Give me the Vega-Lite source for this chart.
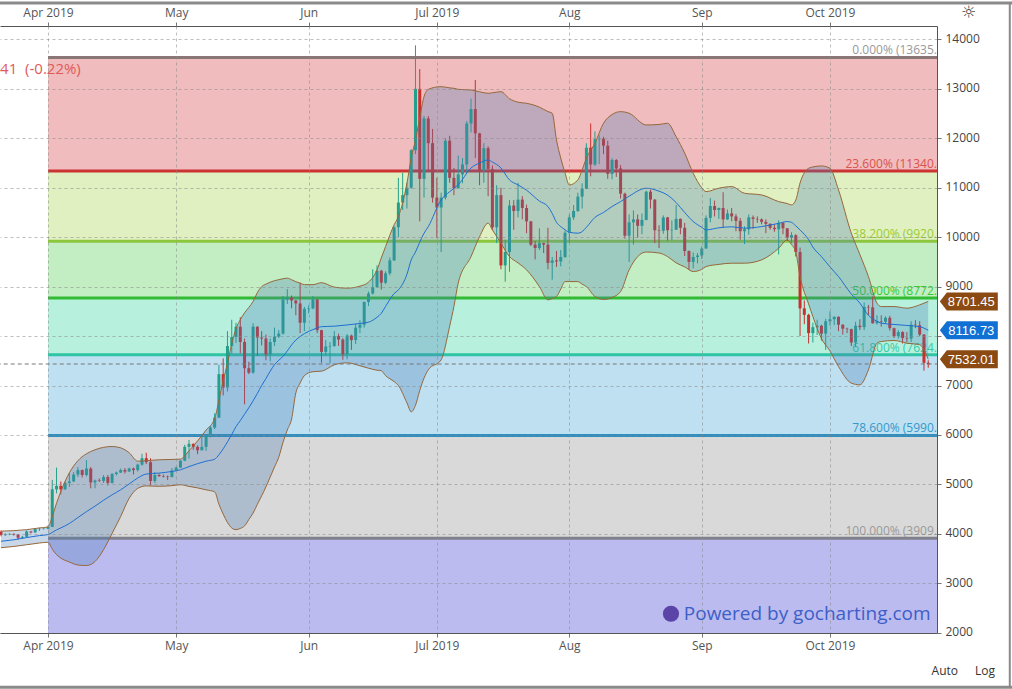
{
  "$schema": "https://vega.github.io/schema/vega-lite/v6.json",
  "width": 937,
  "height": 607,
  "autosize": {"type": "none"},
  "padding": {"left": 0, "top": 26, "right": 75, "bottom": 56},
  "background": "white",
  "config": {"view": {"stroke": null}, "font": "Open Sans", "scale": {"continuousPadding": 0}},
  "datasets": {
    "zones": [
      {"z": "z1", "top": 13635, "bot": 11340},
      {"z": "z2", "top": 11340, "bot": 9920},
      {"z": "z3", "top": 9920, "bot": 8772},
      {"z": "z4", "top": 8772, "bot": 7624},
      {"z": "z5", "top": 7624, "bot": 5990},
      {"z": "z6", "top": 5990, "bot": 3909},
      {"z": "z7", "top": 3909, "bot": 1995}
    ],
    "fib": [
      {"lvl": "0", "v": 13635, "label": "0.000% (13635."},
      {"lvl": "23.6", "v": 11340, "label": "23.600% (11340."},
      {"lvl": "38.2", "v": 9920, "label": "38.200% (9920."},
      {"lvl": "50", "v": 8772, "label": "50.000% (8772."},
      {"lvl": "61.8", "v": 7624, "label": "61.800% (7624."},
      {"lvl": "78.6", "v": 5990, "label": "78.600% (5990."},
      {"lvl": "100", "v": 3909, "label": "100.000% (3909."}
    ],
    "candles": [
      {"t": "2019-03-21", "o": 4045, "h": 4070, "l": 3950, "c": 3975},
      {"t": "2019-03-22", "o": 3975, "h": 4010, "l": 3960, "c": 3990},
      {"t": "2019-03-23", "o": 3990, "h": 4010, "l": 3975, "c": 4000},
      {"t": "2019-03-24", "o": 4000, "h": 4010, "l": 3965, "c": 3985},
      {"t": "2019-03-25", "o": 3985, "h": 3995, "l": 3880, "c": 3920},
      {"t": "2019-03-26", "o": 3920, "h": 3960, "l": 3900, "c": 3940},
      {"t": "2019-03-27", "o": 3940, "h": 4070, "l": 3930, "c": 4050},
      {"t": "2019-03-28", "o": 4050, "h": 4060, "l": 4010, "c": 4030},
      {"t": "2019-03-29", "o": 4030, "h": 4110, "l": 4020, "c": 4095},
      {"t": "2019-03-30", "o": 4095, "h": 4125, "l": 4060, "c": 4100},
      {"t": "2019-03-31", "o": 4100, "h": 4120, "l": 4085, "c": 4105},
      {"t": "2019-04-01", "o": 4105, "h": 4170, "l": 4090, "c": 4140},
      {"t": "2019-04-02", "o": 4140, "h": 5090, "l": 4140, "c": 4900},
      {"t": "2019-04-03", "o": 4900, "h": 5340, "l": 4820, "c": 4970},
      {"t": "2019-04-04", "o": 4970, "h": 5060, "l": 4800, "c": 4900},
      {"t": "2019-04-05", "o": 4900, "h": 5060, "l": 4890, "c": 5030},
      {"t": "2019-04-06", "o": 5030, "h": 5230, "l": 4950, "c": 5060},
      {"t": "2019-04-07", "o": 5060, "h": 5250, "l": 5050, "c": 5200},
      {"t": "2019-04-08", "o": 5200, "h": 5350, "l": 5150, "c": 5290},
      {"t": "2019-04-09", "o": 5290, "h": 5300, "l": 5140, "c": 5190},
      {"t": "2019-04-10", "o": 5190, "h": 5490, "l": 5160, "c": 5320},
      {"t": "2019-04-11", "o": 5320, "h": 5350, "l": 4920, "c": 5040},
      {"t": "2019-04-12", "o": 5040, "h": 5100, "l": 4920, "c": 5080},
      {"t": "2019-04-13", "o": 5080, "h": 5120, "l": 5050, "c": 5070},
      {"t": "2019-04-14", "o": 5070, "h": 5190, "l": 5030, "c": 5150},
      {"t": "2019-04-15", "o": 5150, "h": 5190, "l": 4980, "c": 5030},
      {"t": "2019-04-16", "o": 5030, "h": 5230, "l": 5020, "c": 5210},
      {"t": "2019-04-17", "o": 5210, "h": 5260, "l": 5180, "c": 5240},
      {"t": "2019-04-18", "o": 5240, "h": 5320, "l": 5230, "c": 5290},
      {"t": "2019-04-19", "o": 5290, "h": 5330, "l": 5220, "c": 5260},
      {"t": "2019-04-20", "o": 5260, "h": 5340, "l": 5250, "c": 5320},
      {"t": "2019-04-21", "o": 5320, "h": 5340, "l": 5200, "c": 5290},
      {"t": "2019-04-22", "o": 5290, "h": 5420, "l": 5260, "c": 5400},
      {"t": "2019-04-23", "o": 5400, "h": 5620, "l": 5380, "c": 5530},
      {"t": "2019-04-24", "o": 5530, "h": 5640, "l": 5410, "c": 5450},
      {"t": "2019-04-25", "o": 5450, "h": 5530, "l": 4980, "c": 5070},
      {"t": "2019-04-26", "o": 5070, "h": 5250, "l": 5030, "c": 5190},
      {"t": "2019-04-27", "o": 5190, "h": 5220, "l": 5150, "c": 5170},
      {"t": "2019-04-28", "o": 5170, "h": 5200, "l": 5140, "c": 5160},
      {"t": "2019-04-29", "o": 5160, "h": 5180, "l": 5090, "c": 5150},
      {"t": "2019-04-30", "o": 5150, "h": 5330, "l": 5140, "c": 5280},
      {"t": "2019-05-01", "o": 5280, "h": 5360, "l": 5270, "c": 5340},
      {"t": "2019-05-02", "o": 5340, "h": 5490, "l": 5330, "c": 5480},
      {"t": "2019-05-03", "o": 5480, "h": 5800, "l": 5470, "c": 5760},
      {"t": "2019-05-04", "o": 5760, "h": 5900, "l": 5520, "c": 5820},
      {"t": "2019-05-05", "o": 5820, "h": 5830, "l": 5700, "c": 5760},
      {"t": "2019-05-06", "o": 5760, "h": 5790, "l": 5610, "c": 5690},
      {"t": "2019-05-07", "o": 5690, "h": 5970, "l": 5690, "c": 5760},
      {"t": "2019-05-08", "o": 5760, "h": 6000, "l": 5680, "c": 5960},
      {"t": "2019-05-09", "o": 5960, "h": 6180, "l": 5950, "c": 6150},
      {"t": "2019-05-10", "o": 6150, "h": 6440, "l": 6120, "c": 6350},
      {"t": "2019-05-11", "o": 6350, "h": 7420, "l": 6350, "c": 7230},
      {"t": "2019-05-12", "o": 7230, "h": 7550, "l": 6800, "c": 6960},
      {"t": "2019-05-13", "o": 6960, "h": 8100, "l": 6880, "c": 7800},
      {"t": "2019-05-14", "o": 7800, "h": 8330, "l": 7650, "c": 7980},
      {"t": "2019-05-15", "o": 7980, "h": 8270, "l": 7860, "c": 8190},
      {"t": "2019-05-16", "o": 8190, "h": 8380, "l": 7650, "c": 7880},
      {"t": "2019-05-17", "o": 7880, "h": 7950, "l": 6620, "c": 7350},
      {"t": "2019-05-18", "o": 7350, "h": 7480, "l": 7230, "c": 7260},
      {"t": "2019-05-19", "o": 7260, "h": 8260, "l": 7240, "c": 8190},
      {"t": "2019-05-20", "o": 8190, "h": 8200, "l": 7600, "c": 7970},
      {"t": "2019-05-21", "o": 7970, "h": 8100, "l": 7810, "c": 7950},
      {"t": "2019-05-22", "o": 7950, "h": 8030, "l": 7510, "c": 7630},
      {"t": "2019-05-23", "o": 7630, "h": 7950, "l": 7490, "c": 7880},
      {"t": "2019-05-24", "o": 7880, "h": 8170, "l": 7800, "c": 7990},
      {"t": "2019-05-25", "o": 7990, "h": 8120, "l": 7960, "c": 8050},
      {"t": "2019-05-26", "o": 8050, "h": 8810, "l": 8030, "c": 8740},
      {"t": "2019-05-27", "o": 8740, "h": 8950, "l": 8650, "c": 8780},
      {"t": "2019-05-28", "o": 8780, "h": 8820, "l": 8560, "c": 8720},
      {"t": "2019-05-29", "o": 8720, "h": 8730, "l": 8420, "c": 8660},
      {"t": "2019-05-30", "o": 8660, "h": 9080, "l": 8060, "c": 8270},
      {"t": "2019-05-31", "o": 8270, "h": 8590, "l": 8100, "c": 8550},
      {"t": "2019-06-01", "o": 8550, "h": 8620, "l": 8460, "c": 8560},
      {"t": "2019-06-02", "o": 8560, "h": 8810, "l": 8540, "c": 8740},
      {"t": "2019-06-03", "o": 8740, "h": 8750, "l": 8060, "c": 8120},
      {"t": "2019-06-04", "o": 8120, "h": 8125, "l": 7460, "c": 7680},
      {"t": "2019-06-05", "o": 7680, "h": 7920, "l": 7600, "c": 7790},
      {"t": "2019-06-06", "o": 7790, "h": 7880, "l": 7450, "c": 7800},
      {"t": "2019-06-07", "o": 7800, "h": 8100, "l": 7780, "c": 8000},
      {"t": "2019-06-08", "o": 8000, "h": 8050, "l": 7800, "c": 7930},
      {"t": "2019-06-09", "o": 7930, "h": 7960, "l": 7520, "c": 7630},
      {"t": "2019-06-10", "o": 7630, "h": 8040, "l": 7530, "c": 8010},
      {"t": "2019-06-11", "o": 8010, "h": 8030, "l": 7720, "c": 7920},
      {"t": "2019-06-12", "o": 7920, "h": 8250, "l": 7840, "c": 8170},
      {"t": "2019-06-13", "o": 8170, "h": 8320, "l": 8060, "c": 8230},
      {"t": "2019-06-14", "o": 8230, "h": 8700, "l": 8170, "c": 8690},
      {"t": "2019-06-15", "o": 8690, "h": 8900, "l": 8610, "c": 8860},
      {"t": "2019-06-16", "o": 8860, "h": 9350, "l": 8840, "c": 8990},
      {"t": "2019-06-17", "o": 8990, "h": 9430, "l": 8980, "c": 9320},
      {"t": "2019-06-18", "o": 9320, "h": 9340, "l": 8940, "c": 9080},
      {"t": "2019-06-19", "o": 9080, "h": 9310, "l": 9050, "c": 9270},
      {"t": "2019-06-20", "o": 9270, "h": 9590, "l": 9230, "c": 9530},
      {"t": "2019-06-21", "o": 9530, "h": 10220, "l": 9520, "c": 10200},
      {"t": "2019-06-22", "o": 10200, "h": 11200, "l": 10000, "c": 10700},
      {"t": "2019-06-23", "o": 10700, "h": 11300, "l": 10550, "c": 10850},
      {"t": "2019-06-24", "o": 10850, "h": 11100, "l": 10580, "c": 11000},
      {"t": "2019-06-25", "o": 11000, "h": 11780, "l": 10980, "c": 11760},
      {"t": "2019-06-26", "o": 11760, "h": 13880, "l": 11680, "c": 13000},
      {"t": "2019-06-27", "o": 13000, "h": 13400, "l": 10320, "c": 11180},
      {"t": "2019-06-28", "o": 11180, "h": 12450, "l": 10800, "c": 12400},
      {"t": "2019-06-29", "o": 12400, "h": 12450, "l": 11350, "c": 11900},
      {"t": "2019-06-30", "o": 11900, "h": 12190, "l": 10700, "c": 10800},
      {"t": "2019-07-01", "o": 10800, "h": 11200, "l": 9980, "c": 10600},
      {"t": "2019-07-02", "o": 10600, "h": 10900, "l": 9700, "c": 10800},
      {"t": "2019-07-03", "o": 10800, "h": 12000, "l": 10760, "c": 11950},
      {"t": "2019-07-04", "o": 11950, "h": 12050, "l": 11100, "c": 11200},
      {"t": "2019-07-05", "o": 11200, "h": 11400, "l": 10850, "c": 10990},
      {"t": "2019-07-06", "o": 10990, "h": 11650, "l": 10980, "c": 11270},
      {"t": "2019-07-07", "o": 11270, "h": 11600, "l": 11090, "c": 11470},
      {"t": "2019-07-08", "o": 11470, "h": 12350, "l": 11300, "c": 12300},
      {"t": "2019-07-09", "o": 12300, "h": 12800, "l": 12120, "c": 12590},
      {"t": "2019-07-10", "o": 12590, "h": 13180, "l": 11600, "c": 12100},
      {"t": "2019-07-11", "o": 12100, "h": 12110, "l": 11050, "c": 11350},
      {"t": "2019-07-12", "o": 11350, "h": 11900, "l": 11100, "c": 11800},
      {"t": "2019-07-13", "o": 11800, "h": 11840, "l": 10830, "c": 11380},
      {"t": "2019-07-14", "o": 11380, "h": 11450, "l": 10150, "c": 10200},
      {"t": "2019-07-15", "o": 10200, "h": 11050, "l": 9880, "c": 10850},
      {"t": "2019-07-16", "o": 10850, "h": 11000, "l": 9350, "c": 9430},
      {"t": "2019-07-17", "o": 9430, "h": 9950, "l": 9100, "c": 9700},
      {"t": "2019-07-18", "o": 9700, "h": 10750, "l": 9300, "c": 10640},
      {"t": "2019-07-19", "o": 10640, "h": 10750, "l": 10150, "c": 10530},
      {"t": "2019-07-20", "o": 10530, "h": 11100, "l": 10400, "c": 10760},
      {"t": "2019-07-21", "o": 10760, "h": 10830, "l": 10360, "c": 10590},
      {"t": "2019-07-22", "o": 10590, "h": 10660, "l": 10080, "c": 10320},
      {"t": "2019-07-23", "o": 10320, "h": 10330, "l": 9820, "c": 9850},
      {"t": "2019-07-24", "o": 9850, "h": 9920, "l": 9550, "c": 9780},
      {"t": "2019-07-25", "o": 9780, "h": 10180, "l": 9740, "c": 9880},
      {"t": "2019-07-26", "o": 9880, "h": 9890, "l": 9680, "c": 9850},
      {"t": "2019-07-27", "o": 9850, "h": 10190, "l": 9350, "c": 9480},
      {"t": "2019-07-28", "o": 9480, "h": 9600, "l": 9140, "c": 9530},
      {"t": "2019-07-29", "o": 9530, "h": 9720, "l": 9400, "c": 9510},
      {"t": "2019-07-30", "o": 9510, "h": 9740, "l": 9410, "c": 9600},
      {"t": "2019-07-31", "o": 9600, "h": 10130, "l": 9580, "c": 10090},
      {"t": "2019-08-01", "o": 10090, "h": 10460, "l": 9890, "c": 10400},
      {"t": "2019-08-02", "o": 10400, "h": 10650, "l": 10350, "c": 10530},
      {"t": "2019-08-03", "o": 10530, "h": 10900, "l": 10510, "c": 10820},
      {"t": "2019-08-04", "o": 10820, "h": 11090, "l": 10580, "c": 10980},
      {"t": "2019-08-05", "o": 10980, "h": 11900, "l": 10970, "c": 11810},
      {"t": "2019-08-06", "o": 11810, "h": 12300, "l": 11230, "c": 11470},
      {"t": "2019-08-07", "o": 11470, "h": 12140, "l": 11440, "c": 11980},
      {"t": "2019-08-08", "o": 11980, "h": 12060, "l": 11480, "c": 11990},
      {"t": "2019-08-09", "o": 11990, "h": 12030, "l": 11680, "c": 11850},
      {"t": "2019-08-10", "o": 11850, "h": 11950, "l": 11180, "c": 11280},
      {"t": "2019-08-11", "o": 11280, "h": 11600, "l": 11170, "c": 11560},
      {"t": "2019-08-12", "o": 11560, "h": 11580, "l": 11220, "c": 11390},
      {"t": "2019-08-13", "o": 11390, "h": 11460, "l": 10780, "c": 10880},
      {"t": "2019-08-14", "o": 10880, "h": 10900, "l": 9970, "c": 10030},
      {"t": "2019-08-15", "o": 10030, "h": 10460, "l": 9500, "c": 10300},
      {"t": "2019-08-16", "o": 10300, "h": 10540, "l": 9850, "c": 10360},
      {"t": "2019-08-17", "o": 10360, "h": 10460, "l": 9990, "c": 10230},
      {"t": "2019-08-18", "o": 10230, "h": 10480, "l": 10060, "c": 10350},
      {"t": "2019-08-19", "o": 10350, "h": 10940, "l": 10340, "c": 10920},
      {"t": "2019-08-20", "o": 10920, "h": 10960, "l": 10580, "c": 10760},
      {"t": "2019-08-21", "o": 10760, "h": 10770, "l": 9880, "c": 10140},
      {"t": "2019-08-22", "o": 10140, "h": 10240, "l": 9780, "c": 10130},
      {"t": "2019-08-23", "o": 10130, "h": 10440, "l": 10070, "c": 10400},
      {"t": "2019-08-24", "o": 10400, "h": 10410, "l": 9930, "c": 10140},
      {"t": "2019-08-25", "o": 10140, "h": 10340, "l": 9940, "c": 10150},
      {"t": "2019-08-26", "o": 10150, "h": 10650, "l": 10150, "c": 10370},
      {"t": "2019-08-27", "o": 10370, "h": 10380, "l": 10060, "c": 10190},
      {"t": "2019-08-28", "o": 10190, "h": 10290, "l": 9620, "c": 9720},
      {"t": "2019-08-29", "o": 9720, "h": 9730, "l": 9340, "c": 9500},
      {"t": "2019-08-30", "o": 9500, "h": 9690, "l": 9370, "c": 9600},
      {"t": "2019-08-31", "o": 9600, "h": 9680, "l": 9470, "c": 9630},
      {"t": "2019-09-01", "o": 9630, "h": 9810, "l": 9560, "c": 9770},
      {"t": "2019-09-02", "o": 9770, "h": 10440, "l": 9770, "c": 10390},
      {"t": "2019-09-03", "o": 10390, "h": 10790, "l": 10300, "c": 10630},
      {"t": "2019-09-04", "o": 10630, "h": 10740, "l": 10420, "c": 10550},
      {"t": "2019-09-05", "o": 10550, "h": 10600, "l": 10370, "c": 10590},
      {"t": "2019-09-06", "o": 10590, "h": 10910, "l": 10190, "c": 10360},
      {"t": "2019-09-07", "o": 10360, "h": 10560, "l": 10350, "c": 10480},
      {"t": "2019-09-08", "o": 10480, "h": 10590, "l": 10320, "c": 10420},
      {"t": "2019-09-09", "o": 10420, "h": 10470, "l": 10120, "c": 10330},
      {"t": "2019-09-10", "o": 10330, "h": 10390, "l": 9950, "c": 10120},
      {"t": "2019-09-11", "o": 10120, "h": 10220, "l": 9860, "c": 10160},
      {"t": "2019-09-12", "o": 10160, "h": 10460, "l": 10050, "c": 10400},
      {"t": "2019-09-13", "o": 10400, "h": 10440, "l": 10170, "c": 10370},
      {"t": "2019-09-14", "o": 10370, "h": 10420, "l": 10290, "c": 10360},
      {"t": "2019-09-15", "o": 10360, "h": 10380, "l": 10260, "c": 10310},
      {"t": "2019-09-16", "o": 10310, "h": 10360, "l": 10080, "c": 10270},
      {"t": "2019-09-17", "o": 10270, "h": 10280, "l": 10150, "c": 10190},
      {"t": "2019-09-18", "o": 10190, "h": 10260, "l": 10110, "c": 10160},
      {"t": "2019-09-19", "o": 10160, "h": 10340, "l": 9650, "c": 10290},
      {"t": "2019-09-20", "o": 10290, "h": 10300, "l": 10060, "c": 10180},
      {"t": "2019-09-21", "o": 10180, "h": 10185, "l": 9920, "c": 9990},
      {"t": "2019-09-22", "o": 9990, "h": 10100, "l": 9880, "c": 10040},
      {"t": "2019-09-23", "o": 10040, "h": 10060, "l": 9610, "c": 9700},
      {"t": "2019-09-24", "o": 9700, "h": 9790, "l": 8000, "c": 8560},
      {"t": "2019-09-25", "o": 8560, "h": 8720, "l": 8240, "c": 8430},
      {"t": "2019-09-26", "o": 8430, "h": 8450, "l": 7850, "c": 8060},
      {"t": "2019-09-27", "o": 8060, "h": 8270, "l": 7870, "c": 8180},
      {"t": "2019-09-28", "o": 8180, "h": 8330, "l": 8020, "c": 8210},
      {"t": "2019-09-29", "o": 8210, "h": 8230, "l": 7910, "c": 8050},
      {"t": "2019-09-30", "o": 8050, "h": 8350, "l": 7720, "c": 8300},
      {"t": "2019-10-01", "o": 8300, "h": 8500, "l": 8210, "c": 8340},
      {"t": "2019-10-02", "o": 8340, "h": 8395, "l": 8220, "c": 8390},
      {"t": "2019-10-03", "o": 8390, "h": 8400, "l": 8100, "c": 8230},
      {"t": "2019-10-04", "o": 8230, "h": 8240, "l": 8030, "c": 8150},
      {"t": "2019-10-05", "o": 8150, "h": 8170, "l": 8060, "c": 8140},
      {"t": "2019-10-06", "o": 8140, "h": 8150, "l": 7800, "c": 7870},
      {"t": "2019-10-07", "o": 7870, "h": 8290, "l": 7780, "c": 8210},
      {"t": "2019-10-08", "o": 8210, "h": 8340, "l": 8120, "c": 8180},
      {"t": "2019-10-09", "o": 8180, "h": 8680, "l": 8120, "c": 8590},
      {"t": "2019-10-10", "o": 8590, "h": 8630, "l": 8420, "c": 8580},
      {"t": "2019-10-11", "o": 8580, "h": 8800, "l": 8250, "c": 8260},
      {"t": "2019-10-12", "o": 8260, "h": 8420, "l": 8230, "c": 8300},
      {"t": "2019-10-13", "o": 8300, "h": 8420, "l": 8190, "c": 8290},
      {"t": "2019-10-14", "o": 8290, "h": 8400, "l": 8250, "c": 8370},
      {"t": "2019-10-15", "o": 8370, "h": 8410, "l": 8110, "c": 8160},
      {"t": "2019-10-16", "o": 8160, "h": 8170, "l": 7960, "c": 8000},
      {"t": "2019-10-17", "o": 8000, "h": 8120, "l": 7950, "c": 8080},
      {"t": "2019-10-18", "o": 8080, "h": 8100, "l": 7850, "c": 7960},
      {"t": "2019-10-19", "o": 7960, "h": 8080, "l": 7880, "c": 7950},
      {"t": "2019-10-20", "o": 7950, "h": 8300, "l": 7880, "c": 8230},
      {"t": "2019-10-21", "o": 8230, "h": 8320, "l": 8160, "c": 8220},
      {"t": "2019-10-22", "o": 8220, "h": 8300, "l": 8000, "c": 8030},
      {"t": "2019-10-23", "o": 8030, "h": 8040, "l": 7300, "c": 7460},
      {"t": "2019-10-24", "o": 7460, "h": 7510, "l": 7360, "c": 7430}
    ],
    "bands": [
      {"t": "2019-03-21", "u": 4055, "m": 3850, "lo": 3720},
      {"t": "2019-03-24", "u": 4065, "m": 3880, "lo": 3745},
      {"t": "2019-03-27", "u": 4085, "m": 3925, "lo": 3780},
      {"t": "2019-03-30", "u": 4120, "m": 3965, "lo": 3815},
      {"t": "2019-04-01", "u": 4140, "m": 3985, "lo": 3830},
      {"t": "2019-04-02", "u": 4350, "m": 4030, "lo": 3690},
      {"t": "2019-04-03", "u": 4620, "m": 4080, "lo": 3580},
      {"t": "2019-04-04", "u": 4857, "m": 4120, "lo": 3510},
      {"t": "2019-04-06", "u": 5235, "m": 4210, "lo": 3430},
      {"t": "2019-04-08", "u": 5480, "m": 4330, "lo": 3370},
      {"t": "2019-04-10", "u": 5620, "m": 4450, "lo": 3360},
      {"t": "2019-04-12", "u": 5700, "m": 4560, "lo": 3440},
      {"t": "2019-04-14", "u": 5750, "m": 4680, "lo": 3680},
      {"t": "2019-04-16", "u": 5767, "m": 4790, "lo": 4010},
      {"t": "2019-04-18", "u": 5740, "m": 4890, "lo": 4350},
      {"t": "2019-04-20", "u": 5640, "m": 5010, "lo": 4720},
      {"t": "2019-04-22", "u": 5470, "m": 5130, "lo": 4920},
      {"t": "2019-04-24", "u": 5480, "m": 5210, "lo": 4970},
      {"t": "2019-04-27", "u": 5498, "m": 5229, "lo": 4962},
      {"t": "2019-04-30", "u": 5505, "m": 5262, "lo": 4975},
      {"t": "2019-05-02", "u": 5512, "m": 5296, "lo": 4993},
      {"t": "2019-05-04", "u": 5680, "m": 5360, "lo": 4960},
      {"t": "2019-05-06", "u": 5880, "m": 5420, "lo": 4930},
      {"t": "2019-05-08", "u": 6100, "m": 5470, "lo": 4890},
      {"t": "2019-05-10", "u": 6330, "m": 5510, "lo": 4850},
      {"t": "2019-05-11", "u": 6700, "m": 5600, "lo": 4600},
      {"t": "2019-05-12", "u": 7100, "m": 5720, "lo": 4400},
      {"t": "2019-05-13", "u": 7450, "m": 5860, "lo": 4230},
      {"t": "2019-05-14", "u": 7850, "m": 6010, "lo": 4120},
      {"t": "2019-05-15", "u": 8150, "m": 6170, "lo": 4085},
      {"t": "2019-05-16", "u": 8330, "m": 6290, "lo": 4110},
      {"t": "2019-05-17", "u": 8470, "m": 6420, "lo": 4160},
      {"t": "2019-05-18", "u": 8580, "m": 6550, "lo": 4290},
      {"t": "2019-05-19", "u": 8700, "m": 6690, "lo": 4421},
      {"t": "2019-05-20", "u": 8880, "m": 6840, "lo": 4600},
      {"t": "2019-05-21", "u": 9000, "m": 7000, "lo": 4770},
      {"t": "2019-05-22", "u": 9050, "m": 7140, "lo": 4950},
      {"t": "2019-05-23", "u": 9090, "m": 7290, "lo": 5150},
      {"t": "2019-05-24", "u": 9120, "m": 7420, "lo": 5350},
      {"t": "2019-05-25", "u": 9140, "m": 7510, "lo": 5550},
      {"t": "2019-05-26", "u": 9160, "m": 7590, "lo": 5850},
      {"t": "2019-05-27", "u": 9171, "m": 7700, "lo": 6100},
      {"t": "2019-05-28", "u": 9140, "m": 7820, "lo": 6320},
      {"t": "2019-05-29", "u": 9100, "m": 7920, "lo": 6850},
      {"t": "2019-05-30", "u": 9070, "m": 7990, "lo": 7050},
      {"t": "2019-05-31", "u": 9040, "m": 8050, "lo": 7200},
      {"t": "2019-06-02", "u": 9040, "m": 8130, "lo": 7280},
      {"t": "2019-06-04", "u": 9080, "m": 8190, "lo": 7290},
      {"t": "2019-06-07", "u": 8990, "m": 8200, "lo": 7418},
      {"t": "2019-06-10", "u": 8969, "m": 8225, "lo": 7459},
      {"t": "2019-06-13", "u": 9010, "m": 8255, "lo": 7400},
      {"t": "2019-06-15", "u": 9090, "m": 8280, "lo": 7350},
      {"t": "2019-06-17", "u": 9339, "m": 8380, "lo": 7310},
      {"t": "2019-06-18", "u": 9580, "m": 8460, "lo": 7300},
      {"t": "2019-06-19", "u": 9810, "m": 8600, "lo": 7200},
      {"t": "2019-06-21", "u": 10250, "m": 8860, "lo": 7080},
      {"t": "2019-06-22", "u": 10416, "m": 8934, "lo": 7000},
      {"t": "2019-06-24", "u": 11091, "m": 9250, "lo": 6650},
      {"t": "2019-06-25", "u": 11600, "m": 9541, "lo": 6468},
      {"t": "2019-06-26", "u": 11967, "m": 9700, "lo": 6600},
      {"t": "2019-06-27", "u": 12420, "m": 9900, "lo": 6900},
      {"t": "2019-06-28", "u": 12842, "m": 10080, "lo": 7150},
      {"t": "2019-06-29", "u": 12991, "m": 10214, "lo": 7317},
      {"t": "2019-07-02", "u": 13044, "m": 10754, "lo": 7519},
      {"t": "2019-07-04", "u": 13020, "m": 10920, "lo": 8200},
      {"t": "2019-07-05", "u": 13011, "m": 10990, "lo": 8600},
      {"t": "2019-07-06", "u": 12990, "m": 11060, "lo": 9070},
      {"t": "2019-07-09", "u": 12977, "m": 11400, "lo": 9608},
      {"t": "2019-07-11", "u": 12940, "m": 11500, "lo": 10012},
      {"t": "2019-07-13", "u": 12910, "m": 11562, "lo": 10283},
      {"t": "2019-07-14", "u": 12920, "m": 11520, "lo": 10147},
      {"t": "2019-07-16", "u": 12943, "m": 11400, "lo": 9878},
      {"t": "2019-07-18", "u": 12800, "m": 11158, "lo": 9608},
      {"t": "2019-07-20", "u": 12730, "m": 11057, "lo": 9480},
      {"t": "2019-07-22", "u": 12708, "m": 10950, "lo": 9339},
      {"t": "2019-07-25", "u": 12630, "m": 10730, "lo": 9001},
      {"t": "2019-07-27", "u": 12540, "m": 10619, "lo": 8732},
      {"t": "2019-07-28", "u": 12506, "m": 10480, "lo": 8760},
      {"t": "2019-07-29", "u": 11967, "m": 10300, "lo": 8799},
      {"t": "2019-07-30", "u": 11600, "m": 10214, "lo": 8950},
      {"t": "2019-07-31", "u": 11300, "m": 10150, "lo": 9102},
      {"t": "2019-08-01", "u": 11057, "m": 10100, "lo": 9102},
      {"t": "2019-08-03", "u": 11158, "m": 10081, "lo": 9102},
      {"t": "2019-08-04", "u": 11360, "m": 10113, "lo": 9050},
      {"t": "2019-08-05", "u": 11600, "m": 10200, "lo": 9001},
      {"t": "2019-08-07", "u": 11900, "m": 10400, "lo": 8799},
      {"t": "2019-08-09", "u": 12304, "m": 10500, "lo": 8740},
      {"t": "2019-08-11", "u": 12480, "m": 10620, "lo": 8780},
      {"t": "2019-08-13", "u": 12539, "m": 10720, "lo": 8900},
      {"t": "2019-08-15", "u": 12506, "m": 10830, "lo": 9339},
      {"t": "2019-08-19", "u": 12270, "m": 10990, "lo": 9700},
      {"t": "2019-08-22", "u": 12280, "m": 10930, "lo": 9680},
      {"t": "2019-08-24", "u": 12304, "m": 10850, "lo": 9608},
      {"t": "2019-08-26", "u": 12033, "m": 10700, "lo": 9480},
      {"t": "2019-08-28", "u": 11700, "m": 10500, "lo": 9400},
      {"t": "2019-08-30", "u": 11293, "m": 10316, "lo": 9305},
      {"t": "2019-09-01", "u": 11000, "m": 10200, "lo": 9350},
      {"t": "2019-09-02", "u": 10922, "m": 10147, "lo": 9406},
      {"t": "2019-09-05", "u": 10990, "m": 10190, "lo": 9450},
      {"t": "2019-09-08", "u": 11023, "m": 10210, "lo": 9474},
      {"t": "2019-09-11", "u": 10889, "m": 10182, "lo": 9474},
      {"t": "2019-09-15", "u": 10855, "m": 10214, "lo": 9541},
      {"t": "2019-09-19", "u": 10720, "m": 10280, "lo": 9777},
      {"t": "2019-09-21", "u": 10680, "m": 10316, "lo": 9945},
      {"t": "2019-09-22", "u": 10653, "m": 10300, "lo": 9850},
      {"t": "2019-09-23", "u": 10750, "m": 10230, "lo": 9700},
      {"t": "2019-09-24", "u": 11097, "m": 10147, "lo": 9204},
      {"t": "2019-09-26", "u": 11394, "m": 9950, "lo": 8650},
      {"t": "2019-09-27", "u": 11420, "m": 9800, "lo": 8395},
      {"t": "2019-09-29", "u": 11441, "m": 9608, "lo": 7950},
      {"t": "2019-10-01", "u": 11394, "m": 9400, "lo": 7700},
      {"t": "2019-10-03", "u": 10956, "m": 9204, "lo": 7384},
      {"t": "2019-10-06", "u": 10081, "m": 8850, "lo": 7048},
      {"t": "2019-10-08", "u": 9650, "m": 8666, "lo": 7014},
      {"t": "2019-10-10", "u": 9204, "m": 8420, "lo": 7317},
      {"t": "2019-10-12", "u": 8666, "m": 8300, "lo": 7857},
      {"t": "2019-10-13", "u": 8597, "m": 8261, "lo": 7890},
      {"t": "2019-10-16", "u": 8597, "m": 8235, "lo": 7910},
      {"t": "2019-10-19", "u": 8564, "m": 8215, "lo": 7857},
      {"t": "2019-10-22", "u": 8631, "m": 8190, "lo": 7823},
      {"t": "2019-10-24", "u": 8701.45, "m": 8116.73, "lo": 7532.01}
    ],
    "tags": [
      {"k": "upper", "v": 8701.45, "txt": "8701.45"},
      {"k": "mid", "v": 8116.73, "txt": "8116.73"},
      {"k": "lower", "v": 7532.01, "txt": "7532.01"}
    ]
  },
  "resolve": {
    "scale": {"color": "independent", "fill": "independent", "stroke": "independent"},
    "axis": {"x": "independent", "y": "independent"}
  },
  "layer": [
    {
      "data": {"name": "zones"},
      "mark": {"type": "rect", "clip": true},
      "encoding": {
        "x": {"datum": {"year": 2019, "month": 4, "date": 1, "utc": true}, "type": "temporal",
          "scale": {"type": "utc", "domain": [1553106240000, 1572052320000], "padding": 0},
          "axis": {"orient": "bottom", "title": null, "zindex": 1,
            "values": [
              {"year": 2019, "month": 4, "date": 1, "utc": true},
              {"year": 2019, "month": 5, "date": 1, "utc": true},
              {"year": 2019, "month": 6, "date": 1, "utc": true},
              {"year": 2019, "month": 7, "date": 1, "utc": true},
              {"year": 2019, "month": 8, "date": 1, "utc": true},
              {"year": 2019, "month": 9, "date": 1, "utc": true},
              {"year": 2019, "month": 10, "date": 1, "utc": true}
            ],
            "labelExpr": "utcFormat(datum.value, utcmonth(datum.value) % 3 == 0 ? '%b %Y' : '%b')",
            "labelFontSize": 12, "labelColor": "#555", "labelPadding": 3,
            "domainColor": "#555", "tickColor": "#777", "tickSize": 4,
            "grid": true, "gridDash": [3, 3], "gridColor": "#888", "gridOpacity": 0.55}},
        "x2": {"datum": {"year": 2019, "month": 10, "date": 27, "utc": true}},
        "y": {"field": "top", "type": "quantitative",
          "scale": {"domain": [1995, 14271], "nice": false, "zero": false, "padding": 0},
          "axis": {"orient": "right", "title": null, "zindex": 1, "format": "d",
            "values": [2000, 3000, 4000, 5000, 6000, 7000, 8000, 9000, 10000, 11000, 12000, 13000, 14000],
            "labelExpr": "datum.value == 8000 ? '' : datum.label",
            "labelFontSize": 12, "labelColor": "#444", "labelPadding": 4, "labelBaseline": "bottom", "labelOffset": 6,
            "domainColor": "#555", "tickColor": "#777", "tickSize": 4,
            "grid": true, "gridDash": [3, 3], "gridColor": "#888", "gridOpacity": 0.55}},
        "y2": {"field": "bot"},
        "fill": {"field": "z", "type": "nominal", "legend": null,
          "scale": {"domain": ["z1", "z2", "z3", "z4", "z5", "z6", "z7"],
            "range": ["#f0bcbd", "#e0f0c0", "#c3edc3", "#b8f0de", "#bfe0f0", "#d9d9d9", "#bbbbef"]}}
      }
    },
    {
      "data": {"name": "fib"},
      "mark": {"type": "rule", "clip": true, "strokeWidth": 3},
      "encoding": {
        "x": {"datum": {"year": 2019, "month": 4, "date": 1, "utc": true}, "type": "temporal",
          "scale": {"type": "utc", "domain": [1553106240000, 1572052320000], "padding": 0},
          "axis": {"orient": "top", "title": null,
            "values": [
              {"year": 2019, "month": 4, "date": 1, "utc": true},
              {"year": 2019, "month": 5, "date": 1, "utc": true},
              {"year": 2019, "month": 6, "date": 1, "utc": true},
              {"year": 2019, "month": 7, "date": 1, "utc": true},
              {"year": 2019, "month": 8, "date": 1, "utc": true},
              {"year": 2019, "month": 9, "date": 1, "utc": true},
              {"year": 2019, "month": 10, "date": 1, "utc": true}
            ],
            "labelExpr": "utcFormat(datum.value, utcmonth(datum.value) % 3 == 0 ? '%b %Y' : '%b')",
            "labelFontSize": 12, "labelColor": "#555", "labelPadding": 3,
            "domainColor": "#555", "tickColor": "#777", "tickSize": 4, "grid": false}},
        "x2": {"datum": {"year": 2019, "month": 10, "date": 27, "utc": true}},
        "y": {"field": "v", "type": "quantitative",
          "scale": {"domain": [1995, 14271], "nice": false, "zero": false, "padding": 0}, "axis": null},
        "stroke": {"field": "lvl", "type": "nominal", "legend": null,
          "scale": {"domain": ["0", "23.6", "38.2", "50", "61.8", "78.6", "100"],
            "range": ["#8a7676", "#cc3333", "#8cc63f", "#33bb33", "#2ec4a4", "#2e8fc0", "#80808c"]}}
      }
    },
    {
      "data": {"name": "fib"},
      "mark": {"type": "text", "align": "right", "baseline": "alphabetic", "dy": -3, "fontSize": 12},
      "encoding": {
        "x": {"datum": {"year": 2019, "month": 10, "date": 26, "hours": 1, "utc": true}, "type": "temporal",
          "scale": {"type": "utc", "domain": [1553106240000, 1572052320000], "padding": 0}, "axis": null},
        "y": {"field": "v", "type": "quantitative",
          "scale": {"domain": [1995, 14271], "nice": false, "zero": false, "padding": 0}, "axis": null},
        "text": {"field": "label"},
        "color": {"field": "lvl", "type": "nominal", "legend": null,
          "scale": {"domain": ["0", "23.6", "38.2", "50", "61.8", "78.6", "100"],
            "range": ["#999999", "#d9534f", "#9acd32", "#33cc33", "#33ccaa", "#3399cc", "#999999"]}}
      }
    },
    {
      "data": {"name": "candles"},
      "mark": {"type": "rule", "strokeWidth": 1},
      "encoding": {
        "x": {"field": "t", "type": "temporal",
          "scale": {"type": "utc", "domain": [1553106240000, 1572052320000], "padding": 0}, "axis": null},
        "y": {"field": "l", "type": "quantitative",
          "scale": {"domain": [1995, 14271], "nice": false, "zero": false, "padding": 0}, "axis": null},
        "y2": {"field": "h"},
        "color": {"condition": {"test": "datum.c < datum.o", "value": "#c8302e"}, "value": "#23a08c"}
      }
    },
    {
      "data": {"name": "candles"},
      "mark": {"type": "bar", "size": 3},
      "encoding": {
        "x": {"field": "t", "type": "temporal",
          "scale": {"type": "utc", "domain": [1553106240000, 1572052320000], "padding": 0}, "axis": null},
        "y": {"field": "o", "type": "quantitative",
          "scale": {"domain": [1995, 14271], "nice": false, "zero": false, "padding": 0}, "axis": null},
        "y2": {"field": "c"},
        "color": {"condition": {"test": "datum.c < datum.o", "value": "#c8302e"}, "value": "#23a08c"}
      }
    },
    {
      "data": {"name": "bands"},
      "mark": {"type": "area", "interpolate": "monotone", "fill": "#4a7fb5", "opacity": 0.3},
      "encoding": {
        "x": {"field": "t", "type": "temporal",
          "scale": {"type": "utc", "domain": [1553106240000, 1572052320000], "padding": 0}, "axis": null},
        "y": {"field": "u", "type": "quantitative",
          "scale": {"domain": [1995, 14271], "nice": false, "zero": false, "padding": 0}, "axis": null},
        "y2": {"field": "lo"}
      }
    },
    {
      "data": {"name": "bands"},
      "mark": {"type": "line", "interpolate": "monotone", "stroke": "#96673a", "strokeWidth": 1},
      "encoding": {
        "x": {"field": "t", "type": "temporal",
          "scale": {"type": "utc", "domain": [1553106240000, 1572052320000], "padding": 0}, "axis": null},
        "y": {"field": "u", "type": "quantitative",
          "scale": {"domain": [1995, 14271], "nice": false, "zero": false, "padding": 0}, "axis": null}
      }
    },
    {
      "data": {"name": "bands"},
      "mark": {"type": "line", "interpolate": "monotone", "stroke": "#96673a", "strokeWidth": 1},
      "encoding": {
        "x": {"field": "t", "type": "temporal",
          "scale": {"type": "utc", "domain": [1553106240000, 1572052320000], "padding": 0}, "axis": null},
        "y": {"field": "lo", "type": "quantitative",
          "scale": {"domain": [1995, 14271], "nice": false, "zero": false, "padding": 0}, "axis": null}
      }
    },
    {
      "data": {"name": "bands"},
      "mark": {"type": "line", "interpolate": "monotone", "stroke": "#1f6fd1", "strokeWidth": 1},
      "encoding": {
        "x": {"field": "t", "type": "temporal",
          "scale": {"type": "utc", "domain": [1553106240000, 1572052320000], "padding": 0}, "axis": null},
        "y": {"field": "m", "type": "quantitative",
          "scale": {"domain": [1995, 14271], "nice": false, "zero": false, "padding": 0}, "axis": null}
      }
    },
    {
      "data": {"values": [{"last": 7435}]},
      "mark": {"type": "rule", "clip": true, "stroke": "#777", "strokeDash": [4, 3], "strokeWidth": 1},
      "encoding": {
        "x": {"datum": {"year": 2019, "month": 3, "date": 20, "utc": true}, "type": "temporal",
          "scale": {"type": "utc", "domain": [1553106240000, 1572052320000], "padding": 0}, "axis": null},
        "x2": {"datum": {"year": 2019, "month": 10, "date": 27, "utc": true}},
        "y": {"field": "last", "type": "quantitative",
          "scale": {"domain": [1995, 14271], "nice": false, "zero": false, "padding": 0}, "axis": null}
      }
    },
    {
      "data": {"name": "tags"},
      "mark": {"type": "point", "filled": true, "opacity": 1, "size": 3364,
        "shape": "M-1,0 L-0.759,-0.31 L1,-0.31 L1,0.31 L-0.759,0.31 Z"},
      "encoding": {
        "x": {"datum": {"year": 2019, "month": 11, "date": 2, "hours": 12, "utc": true}, "type": "temporal",
          "scale": {"type": "utc", "domain": [1553106240000, 1572052320000], "padding": 0}, "axis": null},
        "y": {"field": "v", "type": "quantitative",
          "scale": {"domain": [1995, 14271], "nice": false, "zero": false, "padding": 0}, "axis": null},
        "color": {"condition": {"test": "datum.k == 'mid'", "value": "#1170d4"}, "value": "#8b4a12"}
      }
    },
    {
      "data": {"name": "tags"},
      "mark": {"type": "text", "color": "white", "fontSize": 13, "align": "center", "baseline": "middle", "dy": 1, "font": "Liberation Sans"},
      "encoding": {
        "x": {"datum": {"year": 2019, "month": 11, "date": 3, "hours": 2, "utc": true}, "type": "temporal",
          "scale": {"type": "utc", "domain": [1553106240000, 1572052320000], "padding": 0}, "axis": null},
        "y": {"field": "v", "type": "quantitative",
          "scale": {"domain": [1995, 14271], "nice": false, "zero": false, "padding": 0}, "axis": null},
        "text": {"field": "txt"}
      }
    },
    {
      "data": {"values": [{"txt": "41\u00a0\u00a0(-0.22%)", "v": 13400}]},
      "mark": {"type": "text", "color": "#e05a5a", "fontSize": 15, "align": "left", "baseline": "middle"},
      "encoding": {
        "x": {"datum": {"year": 2019, "month": 3, "date": 20, "hours": 19, "utc": true}, "type": "temporal",
          "scale": {"type": "utc", "domain": [1553106240000, 1572052320000], "padding": 0}, "axis": null},
        "y": {"field": "v", "type": "quantitative",
          "scale": {"domain": [1995, 14271], "nice": false, "zero": false, "padding": 0}, "axis": null},
        "text": {"field": "txt"}
      }
    },
    {
      "data": {"values": [{"v": 2385}]},
      "mark": {"type": "point", "filled": true, "opacity": 1, "size": 260, "color": "#5a44a8"},
      "encoding": {
        "x": {"datum": {"year": 2019, "month": 8, "date": 24, "hours": 19, "utc": true}, "type": "temporal",
          "scale": {"type": "utc", "domain": [1553106240000, 1572052320000], "padding": 0}, "axis": null},
        "y": {"field": "v", "type": "quantitative",
          "scale": {"domain": [1995, 14271], "nice": false, "zero": false, "padding": 0}, "axis": null}
      }
    },
    {
      "data": {"values": [{"txt": "Powered by gocharting.com", "v": 2385}]},
      "mark": {"type": "text", "color": "#3d5fc7", "fontSize": 19, "align": "left", "baseline": "middle"},
      "encoding": {
        "x": {"datum": {"year": 2019, "month": 8, "date": 27, "hours": 19, "utc": true}, "type": "temporal",
          "scale": {"type": "utc", "domain": [1553106240000, 1572052320000], "padding": 0}, "axis": null},
        "y": {"field": "v", "type": "quantitative",
          "scale": {"domain": [1995, 14271], "nice": false, "zero": false, "padding": 0}, "axis": null},
        "text": {"field": "txt"}
      }
    },
    {
      "data": {"values": [{"txt": "Auto", "v": 1233}]},
      "mark": {"type": "text", "color": "#333", "fontSize": 12, "align": "center", "baseline": "middle"},
      "encoding": {
        "x": {"datum": {"year": 2019, "month": 10, "date": 27, "hours": 21, "utc": true}, "type": "temporal",
          "scale": {"type": "utc", "domain": [1553106240000, 1572052320000], "padding": 0}, "axis": null},
        "y": {"field": "v", "type": "quantitative",
          "scale": {"domain": [1995, 14271], "nice": false, "zero": false, "padding": 0}, "axis": null},
        "text": {"field": "txt"}
      }
    },
    {
      "data": {"values": [{"txt": "Log", "v": 1233}]},
      "mark": {"type": "text", "color": "#333", "fontSize": 12, "align": "center", "baseline": "middle"},
      "encoding": {
        "x": {"datum": {"year": 2019, "month": 11, "date": 6, "hours": 7, "utc": true}, "type": "temporal",
          "scale": {"type": "utc", "domain": [1553106240000, 1572052320000], "padding": 0}, "axis": null},
        "y": {"field": "v", "type": "quantitative",
          "scale": {"domain": [1995, 14271], "nice": false, "zero": false, "padding": 0}, "axis": null},
        "text": {"field": "txt"}
      }
    },
    {
      "data": {"values": [{"txt": "☼", "v": 14534}]},
      "mark": {"type": "text", "color": "#444", "fontSize": 17, "align": "center", "baseline": "middle", "font": "DejaVu Sans"},
      "encoding": {
        "x": {"datum": {"year": 2019, "month": 11, "date": 2, "hours": 12, "utc": true}, "type": "temporal",
          "scale": {"type": "utc", "domain": [1553106240000, 1572052320000], "padding": 0}, "axis": null},
        "y": {"field": "v", "type": "quantitative",
          "scale": {"domain": [1995, 14271], "nice": false, "zero": false, "padding": 0}, "axis": null},
        "text": {"field": "txt"}
      }
    },
    {
      "data": {"values": [{"v": 14736}, {"v": 900}]},
      "mark": {"type": "rule", "stroke": "#8a8a8a", "strokeWidth": 3},
      "encoding": {
        "x": {"datum": {"year": 2019, "month": 3, "date": 1, "utc": true}, "type": "temporal",
          "scale": {"type": "utc", "domain": [1553106240000, 1572052320000], "padding": 0}, "axis": null},
        "x2": {"datum": {"year": 2019, "month": 11, "date": 30, "utc": true}},
        "y": {"field": "v", "type": "quantitative",
          "scale": {"domain": [1995, 14271], "nice": false, "zero": false, "padding": 0}, "axis": null}
      }
    },
    {
      "data": {"values": [{"top": 14736, "bot": 900}]},
      "mark": {"type": "rule", "stroke": "#8a8a8a", "strokeWidth": 2},
      "encoding": {
        "x": {"datum": {"year": 2019, "month": 11, "date": 12, "hours": 2, "utc": true}, "type": "temporal",
          "scale": {"type": "utc", "domain": [1553106240000, 1572052320000], "padding": 0}, "axis": null},
        "y": {"field": "top", "type": "quantitative",
          "scale": {"domain": [1995, 14271], "nice": false, "zero": false, "padding": 0}, "axis": null},
        "y2": {"field": "bot"}
      }
    }
  ]
}
